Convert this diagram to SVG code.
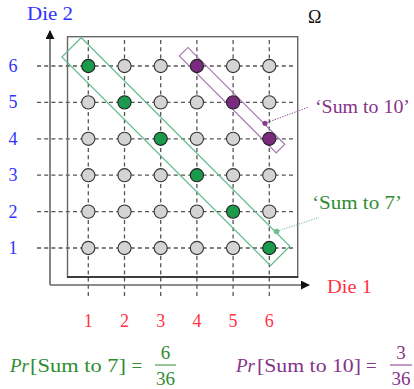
<svg xmlns="http://www.w3.org/2000/svg" width="414" height="389" viewBox="0 0 414 389">
<defs>
<style>
text{font-family:"Liberation Serif","DejaVu Serif",serif;font-size:18px}
.f{font-size:19px}
.blue{fill:#3232ff}
.red{fill:#ff3344}
.grn{fill:#2f8c32}
.pur{fill:#86338a}
.dash{stroke:#555;stroke-width:1.3;stroke-dasharray:4 3.2;fill:none}
.c{fill:#d4d4d4;stroke:#333;stroke-width:1.1}
.cg{fill:#1b9a4b;stroke:#222;stroke-width:1.1}
.cp{fill:#7a2a7f;stroke:#222;stroke-width:1.1}
.axis{stroke:#666;stroke-width:1.6;fill:none}
</style>
<marker id="arr" viewBox="0 0 10 10" refX="9" refY="5" markerWidth="9" markerHeight="9" markerUnits="userSpaceOnUse" orient="auto">
<path d="M0,0 L10,5 L0,10 Z" fill="#111"/>
</marker>
</defs>
<rect width="414" height="389" fill="#fff"/>

<g id="grid">
<path class="dash" d="M88.3,40V298M124.5,40V298M160.7,40V298M196.9,40V298M233.1,40V298M269.3,40V298"/>
<path class="dash" d="M37,66H293M37,102.4H293M37,138.8H293M37,175.2H293M37,211.6H293M37,248H293"/>
</g>

<g id="omega-box">
<rect x="67.5" y="36.7" width="230.2" height="240.3" fill="none" stroke="#666" stroke-width="1.4"/>
<line x1="67" y1="277" x2="298.3" y2="277" stroke="#222" stroke-width="1.5"/>
<text x="308" y="23" fill="#111">Ω</text>
</g>

<g id="axes">
<path class="axis" d="M50,285V31" marker-end="url(#arr)"/>
<path class="axis" d="M50,285H309" marker-end="url(#arr)"/>
<text class="blue" x="27" y="20" textLength="46" lengthAdjust="spacingAndGlyphs">Die 2</text>
<text class="red" x="327" y="293" textLength="45" lengthAdjust="spacingAndGlyphs">Die 1</text>
</g>

<g id="y-labels" class="blue" text-anchor="middle">
<text x="13" y="72">6</text>
<text x="13" y="108.4">5</text>
<text x="13" y="144.8">4</text>
<text x="13" y="181.2">3</text>
<text x="13" y="217.6">2</text>
<text x="13" y="254">1</text>
</g>
<g id="x-labels" class="red" text-anchor="middle">
<text x="88.3" y="327">1</text>
<text x="124.5" y="327">2</text>
<text x="160.7" y="327">3</text>
<text x="196.9" y="327">4</text>
<text x="233.1" y="327">5</text>
<text x="269.3" y="327">6</text>
</g>

<g id="sum7-region">
<rect transform="translate(88.3,66) rotate(45)" x="-25" y="-15" width="295" height="27.3" fill="none" stroke="#5fb98a" stroke-width="1.2"/>
</g>
<g id="sum10-region">
<rect transform="translate(196.9,66) rotate(45)" x="-19.5" y="-6.7" width="137" height="12" fill="none" stroke="#a679b0" stroke-width="1.2"/>
</g>

<g id="outcomes">
<circle class="cg" cx="88.3" cy="66" r="6.6"/>
<circle class="c" cx="124.5" cy="66" r="6.6"/>
<circle class="c" cx="160.7" cy="66" r="6.6"/>
<circle class="cp" cx="196.9" cy="66" r="6.6"/>
<circle class="c" cx="233.1" cy="66" r="6.6"/>
<circle class="c" cx="269.3" cy="66" r="6.6"/>

<circle class="c" cx="88.3" cy="102.4" r="6.6"/>
<circle class="cg" cx="124.5" cy="102.4" r="6.6"/>
<circle class="c" cx="160.7" cy="102.4" r="6.6"/>
<circle class="c" cx="196.9" cy="102.4" r="6.6"/>
<circle class="cp" cx="233.1" cy="102.4" r="6.6"/>
<circle class="c" cx="269.3" cy="102.4" r="6.6"/>

<circle class="c" cx="88.3" cy="138.8" r="6.6"/>
<circle class="c" cx="124.5" cy="138.8" r="6.6"/>
<circle class="cg" cx="160.7" cy="138.8" r="6.6"/>
<circle class="c" cx="196.9" cy="138.8" r="6.6"/>
<circle class="c" cx="233.1" cy="138.8" r="6.6"/>
<circle class="cp" cx="269.3" cy="138.8" r="6.6"/>

<circle class="c" cx="88.3" cy="175.2" r="6.6"/>
<circle class="c" cx="124.5" cy="175.2" r="6.6"/>
<circle class="c" cx="160.7" cy="175.2" r="6.6"/>
<circle class="cg" cx="196.9" cy="175.2" r="6.6"/>
<circle class="c" cx="233.1" cy="175.2" r="6.6"/>
<circle class="c" cx="269.3" cy="175.2" r="6.6"/>

<circle class="c" cx="88.3" cy="211.6" r="6.6"/>
<circle class="c" cx="124.5" cy="211.6" r="6.6"/>
<circle class="c" cx="160.7" cy="211.6" r="6.6"/>
<circle class="c" cx="196.9" cy="211.6" r="6.6"/>
<circle class="cg" cx="233.1" cy="211.6" r="6.6"/>
<circle class="c" cx="269.3" cy="211.6" r="6.6"/>

<circle class="c" cx="88.3" cy="248" r="6.6"/>
<circle class="c" cx="124.5" cy="248" r="6.6"/>
<circle class="c" cx="160.7" cy="248" r="6.6"/>
<circle class="c" cx="196.9" cy="248" r="6.6"/>
<circle class="c" cx="233.1" cy="248" r="6.6"/>
<circle class="cg" cx="269.3" cy="248" r="6.6"/>
</g>

<g id="connectors">
<line x1="265" y1="123.3" x2="308" y2="107.3" stroke="#8a3f8e" stroke-width="1" stroke-dasharray="1.3 1.3"/>
<circle cx="265" cy="123.3" r="2.6" fill="#8a3f8e"/>
<line x1="276.5" y1="231.5" x2="319" y2="217.5" stroke="#6fbf90" stroke-width="1" stroke-dasharray="1.3 1.3"/>
<circle cx="276.5" cy="231.5" r="2.8" fill="#6fbf90"/>
</g>

<g id="label-sum10">
<text class="pur" x="315" y="112.5" textLength="95" lengthAdjust="spacingAndGlyphs">‘Sum to 10’</text>
</g>
<g id="label-sum7">
<text class="grn" x="312" y="209" textLength="90" lengthAdjust="spacingAndGlyphs">‘Sum to 7’</text>
</g>

<g id="formula-sum7" class="grn">
<text class="f" x="10" y="372" font-style="italic">Pr</text>
<text class="f" x="30" y="372" textLength="96" lengthAdjust="spacingAndGlyphs">[Sum to 7]</text>
<text class="f" x="131.5" y="372">=</text>
<text class="f" x="165.5" y="359" text-anchor="middle">6</text>
<line x1="155" y1="365" x2="176" y2="365" stroke="#2f8c32" stroke-width="1"/>
<text class="f" x="165.5" y="385" text-anchor="middle">36</text>
</g>
<g id="formula-sum10" class="pur">
<text class="f" x="236" y="372" font-style="italic">Pr</text>
<text class="f" x="257" y="372" textLength="104" lengthAdjust="spacingAndGlyphs">[Sum to 10]</text>
<text class="f" x="366" y="372">=</text>
<text class="f" x="401" y="359" text-anchor="middle">3</text>
<line x1="390" y1="365" x2="412" y2="365" stroke="#86338a" stroke-width="1"/>
<text class="f" x="401" y="385" text-anchor="middle">36</text>
</g>
</svg>
